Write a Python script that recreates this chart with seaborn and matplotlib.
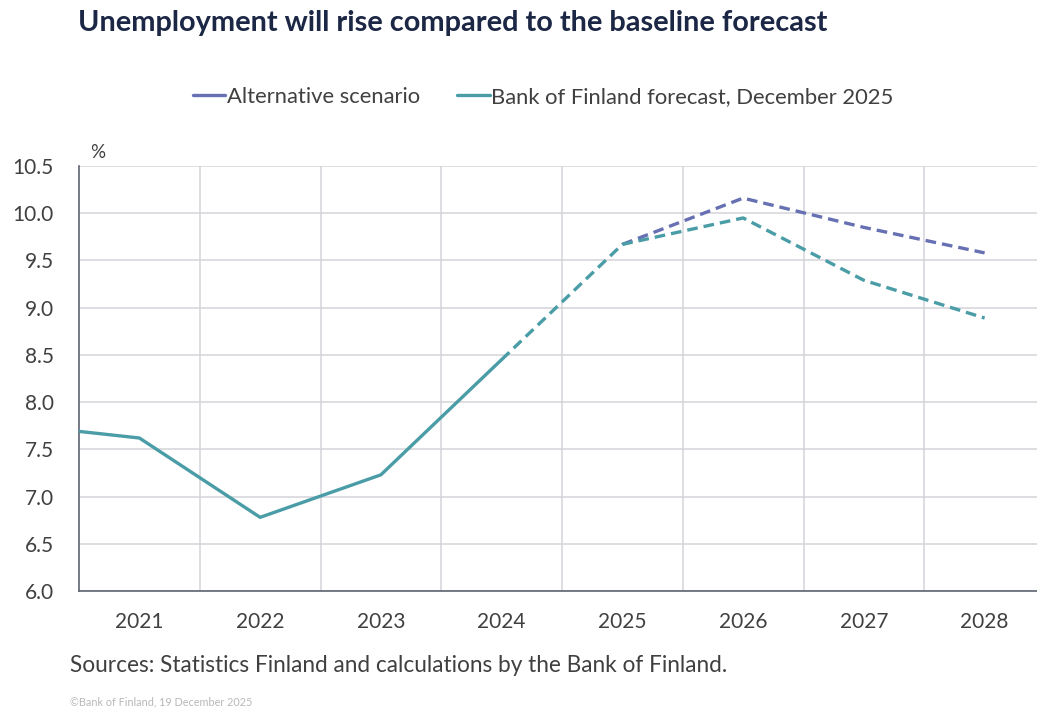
import matplotlib
matplotlib.use("Agg")
import matplotlib.pyplot as plt
from matplotlib.lines import Line2D
import numpy as np
import pandas as pd
import seaborn as sns

# Data (annual unemployment rate, %)
years = [2020, 2021, 2022, 2023, 2024, 2025, 2026, 2027, 2028]
baseline = [7.76, 7.62, 6.78, 7.23, 8.45, 9.67, 9.95, 9.29, 8.89]
alt_years = [2025, 2026, 2027, 2028]
alternative = [9.67, 10.16, 9.85, 9.58]
last_actual = 2024

tick_years = [2021, 2022, 2023, 2024, 2025, 2026, 2027, 2028]
y_ticks = [6.0, 6.5, 7.0, 7.5, 8.0, 8.5, 9.0, 9.5, 10.0, 10.5]

TEAL = "#4a9da6"
PURPLE = "#6670b2"
NAVY = "#1b2744"
TEXT = "#404040"
GRID = "#d3d3da"

sns.set_theme(style="white")
plt.rcParams["font.family"] = ["Lato", "DejaVu Sans"]

df = pd.DataFrame({"year": years, "value": baseline})
actual = df[df["year"] <= last_actual]
forecast = df[df["year"] >= last_actual]
alt = pd.DataFrame({"year": alt_years, "value": alternative})

fig = plt.figure(figsize=(10.37, 7.09), dpi=100)
ax = fig.add_axes([79 / 1037, 118 / 709, (1045 - 79) / 1037, 425 / 709])

lw = 2.4
sns.lineplot(data=alt, x="year", y="value", ax=ax, color=PURPLE, linewidth=lw,
             linestyle=(0, (3.2, 1.8)), zorder=3)
sns.lineplot(data=forecast, x="year", y="value", ax=ax, color=TEAL, linewidth=lw,
             linestyle=(0, (3.2, 1.8)), zorder=4)
sns.lineplot(data=actual, x="year", y="value", ax=ax, color=TEAL, linewidth=lw,
             zorder=4)

ax.set_xlim(2020.5, 2028.5)
ax.set_ylim(6.0, 10.5)
ax.set_yticks(y_ticks)
ax.set_yticklabels([f"{v:.1f}" for v in y_ticks])
ax.set_xticks(tick_years)
ax.set_xticklabels([str(y) for y in tick_years])
ax.set_xticks([y + 0.5 for y in tick_years[:-1]], minor=True)
ax.set_xlabel("")
ax.set_ylabel("")

ax.grid(False)
ax.yaxis.grid(True, color=GRID, linewidth=1.1)
ax.xaxis.grid(True, which="minor", color=GRID, linewidth=1.1)
ax.set_axisbelow(True)
ax.tick_params(axis="both", which="both", length=0, labelsize=15, colors=TEXT)
ax.tick_params(axis="x", pad=15)
ax.tick_params(axis="y", pad=18)
for side in ("top", "right"):
    ax.spines[side].set_visible(False)
for side in ("left", "bottom"):
    ax.spines[side].set_color("#5e6472")
    ax.spines[side].set_linewidth(1.2)

ax.text(0.011, 1.012, "%", transform=ax.transAxes, fontsize=13.5, color=TEXT,
        ha="left", va="bottom")

handles = [Line2D([], [], color=PURPLE, linewidth=lw),
           Line2D([], [], color=TEAL, linewidth=lw)]
fig.legend(handles, ["Alternative scenario", "Bank of Finland forecast, December 2025"],
           loc="center", bbox_to_anchor=(543 / 1037, 1 - 97 / 709), ncol=2,
           frameon=False, fontsize=15.8, handlelength=1.5, handletextpad=0.05,
           columnspacing=1.7, labelcolor=TEXT)

fig.text(78 / 1037, 1 - 23 / 709, "Unemployment will rise compared to the baseline forecast",
         fontsize=20.8, fontweight="bold", color=NAVY, ha="left", va="center")
fig.text(70 / 1037, 1 - 665 / 709, "Sources: Statistics Finland and calculations by the Bank of Finland.",
         fontsize=16.3, color=TEXT, ha="left", va="center")
fig.text(70 / 1037, 1 - 702 / 709, "©Bank of Finland, 19 December 2025",
         fontsize=7.8, color="#b8b8b8", ha="left", va="center")

fig.savefig("out.png", dpi=100)
